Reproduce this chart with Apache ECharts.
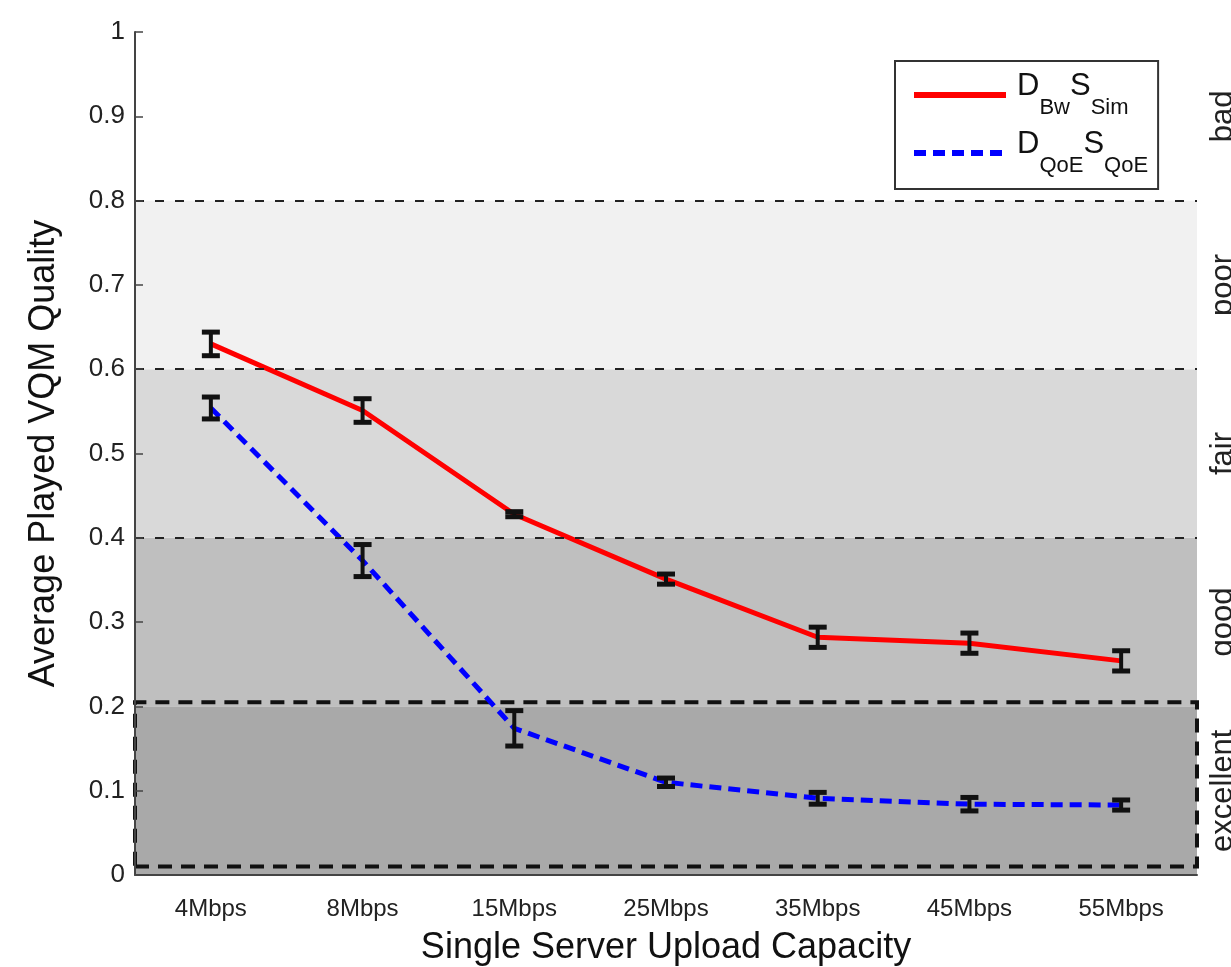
<!DOCTYPE html>
<html>
<head>
<meta charset="utf-8">
<script src="https://cdn.jsdelivr.net/npm/echarts@6/dist/echarts.min.js"></script>
<style>body{margin:0;background:#fff;}</style>
</head>
<body>
<div id="main" style="width:1231px;height:967px;"></div>
<script type="text/javascript">

    var categories = ["4Mbps", "8Mbps", "15Mbps", "25Mbps", "35Mbps", "45Mbps", "55Mbps"];
    // D_Bw S_Sim
    var bwSim = [0.630, 0.551, 0.428, 0.351, 0.282, 0.275, 0.254];
    var bwSimErr = [0.014, 0.014, 0.003, 0.006, 0.012, 0.012, 0.012];
    // D_QoE S_QoE
    var qoeQoe = [0.554, 0.373, 0.174, 0.110, 0.091, 0.084, 0.083];
    var qoeQoeErr = [0.013, 0.019, 0.021, 0.005, 0.007, 0.008, 0.006];

    var ratings = ["excellent", "good", "fair", "poor", "bad"];
    var bandEdges = [0, 0.2, 0.4, 0.6, 0.8, 1];
    var dashedEdges = [0.4, 0.6, 0.8];
    var excellentBox = [0.01, 0.205];

    var bandColors = ['#bfbfbf', '#bfbfbf', '#d9d9d9', '#f1f1f1', '#ffffff'];
    var font = 'Liberation Sans, Arial, sans-serif';

    var ec = echarts.init(document.getElementById('main'));

    function errorBars(name, vals, errs, z) {
        return {
            name: name,
            type: 'custom',
            z: z,
            silent: true,
            encode: { x: 0, y: [1, 2] },
            data: vals.map(function (v, i) { return [i, v - errs[i], v + errs[i]]; }),
            renderItem: function (params, api) {
                var lo = api.coord([api.value(0), api.value(1)]);
                var hi = api.coord([api.value(0), api.value(2)]);
                var w = 9;
                var st = { stroke: '#111', lineWidth: 4 };
                var cap = { stroke: '#111', lineWidth: 5 };
                return {
                    type: 'group',
                    children: [
                        { type: 'line', shape: { x1: lo[0], y1: lo[1], x2: hi[0], y2: hi[1] }, style: st },
                        { type: 'line', shape: { x1: lo[0] - w, y1: lo[1], x2: lo[0] + w, y2: lo[1] }, style: cap },
                        { type: 'line', shape: { x1: hi[0] - w, y1: hi[1], x2: hi[0] + w, y2: hi[1] }, style: cap }
                    ]
                };
            }
        };
    }

    var bands = [];
    for (var i = 0; i < ratings.length; i++) {
        bands.push([
            { yAxis: bandEdges[i], itemStyle: { color: bandColors[i] } },
            { yAxis: bandEdges[i + 1] }
        ]);
    }

    var option = {
        animation: false,
        grid: { left: 135, right: 34, top: 32, bottom: 92, outerBoundsMode: 'none', containLabel: false },
        legend: {
            data: [
                { name: "bwsim", lineStyle: { width: 6, type: 'solid' } },
                { name: "qoeqoe", lineStyle: { width: 6, type: [12, 7] } }
            ],
            orient: 'vertical',
            left: 895,
            top: 61,
            padding: [10, 10, 12, 16],
            itemGap: 10,
            itemWidth: 92,
            itemHeight: 14,
            backgroundColor: '#fff',
            borderColor: '#333',
            borderWidth: 2,
            borderRadius: 0,
            itemStyle: { opacity: 0 },
            formatter: function (n) {
                if (n === 'bwsim') return '{m|D}{s|Bw}{m|S}{s|Sim}';
                return '{m|D}{s|QoE}{m|S}{s|QoE}';
            },
            textStyle: {
                padding: [0, 0, 0, 6],
                rich: {
                    m: { fontSize: 31, fontFamily: font, color: '#111', lineHeight: 48, verticalAlign: 'top' },
                    s: { fontSize: 22, fontFamily: font, color: '#111', lineHeight: 48, verticalAlign: 'bottom' }
                }
            }
        },
        xAxis: {
            type: 'category',
            data: categories,
            z: 10,
            boundaryGap: true,
            name: 'Single Server Upload Capacity',
            nameLocation: 'middle',
            nameGap: 55,
            nameTextStyle: { fontSize: 36, fontFamily: font, color: '#111' },
            axisLine: { lineStyle: { color: '#444', width: 2 } },
            axisTick: { inside: true, alignWithLabel: true, length: 8, lineStyle: { color: '#444', width: 1.5 } },
            axisLabel: { fontSize: 24, fontFamily: font, color: '#222', margin: 22 },
            splitLine: { show: false }
        },
        yAxis: [{
            type: 'value',
            min: 0,
            max: 1,
            interval: 0.1,
            z: 10,
            name: 'Average Played VQM Quality',
            nameLocation: 'middle',
            nameGap: 73,
            nameTextStyle: { fontSize: 36, fontFamily: font, color: '#111' },
            axisLine: { show: true, lineStyle: { color: '#444', width: 2 } },
            axisTick: { show: true, inside: true, length: 8, lineStyle: { color: '#444', width: 1.5 } },
            axisLabel: { fontSize: 26, fontFamily: font, color: '#222', margin: 10 },
            splitLine: { show: false }
        }, {
            type: 'category',
            data: ratings,
            position: 'right',
            boundaryGap: true,
            axisLine: { show: false },
            axisTick: { show: false },
            axisLabel: { rotate: 90, fontSize: 31, fontFamily: font, color: '#222', margin: 11 },
            splitLine: { show: false }
        }],
        series: [
            {
                name: 'bands',
                type: 'line',
                data: [],
                z: 1,
                silent: true,
                markArea: { silent: true, data: bands },
                markLine: {
                    silent: true,
                    symbol: 'none',
                    label: { show: false },
                    lineStyle: { color: '#222', width: 2, type: [9, 11] },
                    data: dashedEdges.map(function (v) { return { yAxis: v }; })
                }
            },
            {
                name: 'bwsim',
                type: 'line',
                data: bwSim,
                z: 3,
                symbol: 'none',
                lineStyle: { color: '#ff0000', width: 5 },
                itemStyle: { color: '#ff0000' }
            },
            {
                name: 'qoeqoe',
                type: 'line',
                data: qoeQoe,
                z: 3,
                symbol: 'none',
                lineStyle: { color: '#0000ff', width: 5, type: [12, 7] },
                itemStyle: { color: '#0000ff' }
            },
            errorBars('bwsimErr', bwSim, bwSimErr, 4),
            errorBars('qoeqoeErr', qoeQoe, qoeQoeErr, 4),
            {
                name: 'excellent',
                type: 'line',
                data: [],
                z: 5,
                silent: true,
                markArea: {
                    silent: true,
                    data: [
                        [{ yAxis: bandEdges[0], itemStyle: { color: 'rgba(110,110,110,0.27)' } }, { yAxis: bandEdges[1] }],
                        [{ yAxis: excellentBox[0], itemStyle: { color: 'rgba(0,0,0,0)', borderColor: '#111', borderWidth: 4, borderType: [14, 9] } }, { yAxis: excellentBox[1] }]
                    ]
                }
            }
        ]
    };

    ec.setOption(option);
</script>
</body>
</html>
